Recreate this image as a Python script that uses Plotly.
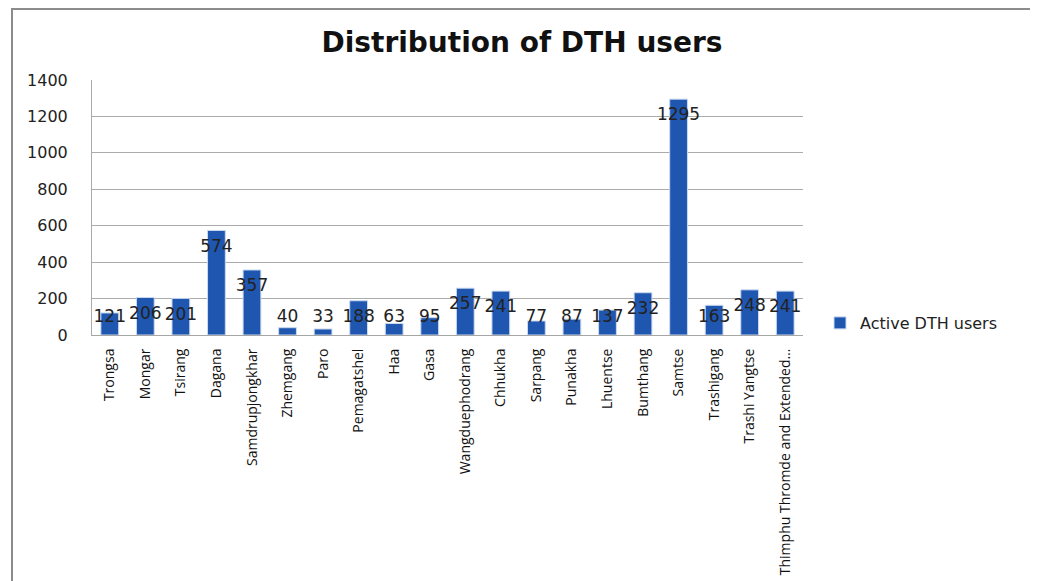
import numpy as np
import plotly.graph_objects as go

categories = ["Trongsa", "Mongar", "Tsirang", "Dagana", "Samdrupjongkhar", "Zhemgang", "Paro",
              "Pemagatshel", "Haa", "Gasa", "Wangduephodrang", "Chhukha", "Sarpang", "Punakha",
              "Lhuentse", "Bumthang", "Samtse", "Trashigang", "Trashi Yangtse",
              "Thimphu Thromde and Extended…"]
active_users = [121, 206, 201, 574, 357, 40, 33, 188, 63, 95, 257, 241, 77, 87, 137, 232,
                1295, 163, 248, 241]
y_ticks = [0, 200, 400, 600, 800, 1000, 1200, 1400]

OFF = 8  # page body margin
W, H = 1026, 573
# target page pixels: plot left 92, right 803, top 80, bottom 335
ml = 92 - OFF
mt = 80 - OFF
mr = W - (803 - OFF)
mb = H - (335 - OFF)
pw, ph = W - ml - mr, H - mt - mb

def px_x(p):  # page pixel -> paper coord
    return (p - OFF - ml) / pw

def px_y(p):
    return (H - mb - (p - OFF)) / ph

vals = np.array(active_users, dtype=float)
label_y = np.maximum(vals - 93, 93)

fig = go.Figure()
fig.add_trace(go.Bar(
    x=categories, y=active_users, name="Active DTH users",
    marker=dict(color="#1F56B0", line=dict(color="#C9D9F0", width=1)),
    width=0.5,
))
fig.add_trace(go.Scatter(
    x=categories, y=label_y, mode="text",
    text=[str(v) for v in active_users], showlegend=False,
    textfont=dict(family="DejaVu Sans", size=17, color="#222222"),
    hoverinfo="skip", cliponaxis=False,
))

fig.update_layout(
    width=W, height=H,
    margin=dict(l=ml, r=mr, t=mt, b=mb, autoexpand=False),
    paper_bgcolor="white", plot_bgcolor="white",
    title=dict(text="<b>Distribution of DTH users</b>", x=(522 - OFF) / W, xanchor="center",
               y=1 - (42 - OFF) / H, yanchor="middle",
               font=dict(family="DejaVu Sans", size=28, color="#111111")),
    showlegend=True,
    legend=dict(x=px_x(820), y=px_y(323), xanchor="left", yanchor="middle",
                font=dict(family="DejaVu Sans", size=16, color="#222222"),
                bgcolor="rgba(0,0,0,0)", itemwidth=30),
    xaxis=dict(type="category", tickangle=-90, showgrid=False, automargin=False,
               showline=True, linecolor="#A6A6A6", linewidth=1,
               tickfont=dict(family="Open Sans", size=14, color="#111111"),
               ticks="", ticklabelstandoff=7, range=[-0.5, len(categories) - 0.5]),
    yaxis=dict(range=[0, 1400], tickvals=y_ticks, showgrid=True, gridcolor="#ABABAB",
               gridwidth=1, showline=True, linecolor="#ABABAB", linewidth=1,
               zeroline=False, ticks="", ticklabelstandoff=20, automargin=False,
               tickfont=dict(family="DejaVu Sans", size=16, color="#222222")),
    shapes=[dict(type="rect", xref="paper", yref="paper",
                 x0=px_x(12), x1=px_x(1032), y0=px_y(600), y1=px_y(9),
                 line=dict(color="#8C8C8C", width=2), fillcolor="rgba(0,0,0,0)", layer="below")],
)

fig.write_html("out.html")
